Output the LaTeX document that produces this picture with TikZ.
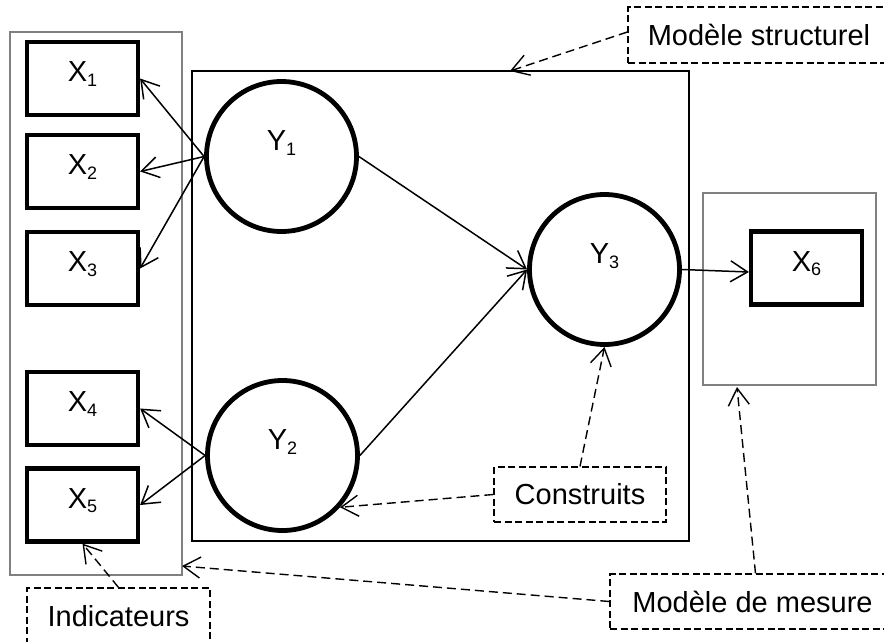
\documentclass[tikz,border=0pt]{standalone}
\usepackage{fontspec}
\setmainfont{Liberation Sans}
\usetikzlibrary{arrows.meta}
\newcommand\sbs[1]{\raisebox{-4.5pt}{\fontsize{18pt}{18pt}\selectfont #1}}
\begin{document}
\begin{tikzpicture}[x=1pt,y=-1pt, font=\fontsize{29pt}{34pt}\selectfont,
 obs/.style={draw, line width=4.2pt, minimum width=111pt, minimum height=73pt, inner sep=0pt, text height=6pt, text depth=0pt},
 lat/.style={draw, circle, line width=4.8pt, minimum size=150pt, inner sep=0pt, text height=0pt, text depth=12pt},
 grp/.style={draw, line width=1.8pt, inner sep=0pt},
 grayframe/.style={draw=gray, line width=2pt, inner sep=0pt},
 note/.style={draw, dash pattern=on 7pt off 3.5pt, line width=1.2pt, inner sep=0pt},
 link/.style={line width=1.5pt, -{Straight Barb[length=17pt,width=21pt]}},
 notelink/.style={link, dash pattern=on 9pt off 5pt, line width=1.4pt}
]
\path[use as bounding box, fill=white] (0,0) rectangle (884,641);
\clip (0,0) rectangle (884,641);

% frames
\node[grayframe, minimum width=172pt, minimum height=542.5pt] (INDbox) at (95.5,303.25) {};
\node[grp, minimum width=497pt, minimum height=470pt] (SM) at (440.5,306) {};
\node[grayframe, minimum width=173pt, minimum height=192pt] (MESbox) at (789.5,289) {};

% observed variables
\node[obs] (X1) at (82.5,78.5) {X\sbs{1}};
\node[obs] (X2) at (82.5,171.5) {X\sbs{2}};
\node[obs] (X3) at (82.5,268.5) {X\sbs{3}};
\node[obs] (X4) at (82.5,408.5) {X\sbs{4}};
\node[obs] (X5) at (82.5,505) {X\sbs{5}};
\node[obs] (X6) at (806.5,268) {X\sbs{6}};

% latent variables
\node[lat] (Y1) at (281.5,156.5) {Y\sbs{1}};
\node[lat] (Y2) at (282.5,455.5) {Y\sbs{2}};
\node[lat] (Y3) at (604.5,269.5) {Y\sbs{3}};

% notes
\node[note, minimum width=262pt, minimum height=56pt] (MS) at (759,35) {Modèle structurel};
\node[note, minimum width=172pt, minimum height=55pt] (C) at (580,494.5) {Construits};
\node[note, minimum width=285pt, minimum height=55pt] (MM) at (752.5,601.5) {Modèle de mesure};
\node[note, minimum width=183pt, minimum height=57pt] (IND) at (118.5,616.5) {Indicateurs};

\coordinate (smtop) at (510,71);
\coordinate (indcorner) at (182,566);
\coordinate (mescorner) at (737,387);

% solid arrows
\draw[link] (Y1.west) -- (X1.east);
\draw[link] (Y1.west) -- (X2.east);
\draw[link] (Y1.west) -- (X3.east);
\draw[link] (Y2.west) -- (X4.east);
\draw[link] (Y2.west) -- (X5.east);
\draw[link] (Y1.east) -- (Y3.west);
\draw[link] (Y2.east) -- (Y3.west);
\draw[link] (Y3.east) -- ([yshift=-4pt]X6.west);

% dashed arrows
\draw[notelink] ([yshift=3pt]MS.west) -- (smtop);
\draw[notelink] (C.north) -- (Y3.south);
\draw[notelink] (C.west) -- (Y2.-42);
\draw[notelink] ([xshift=3pt]MM.north) -- (mescorner);
\draw[notelink] (MM.west) -- (indcorner);
\draw[notelink] (IND.north) -- (X5.south);
\end{tikzpicture}
\end{document}
